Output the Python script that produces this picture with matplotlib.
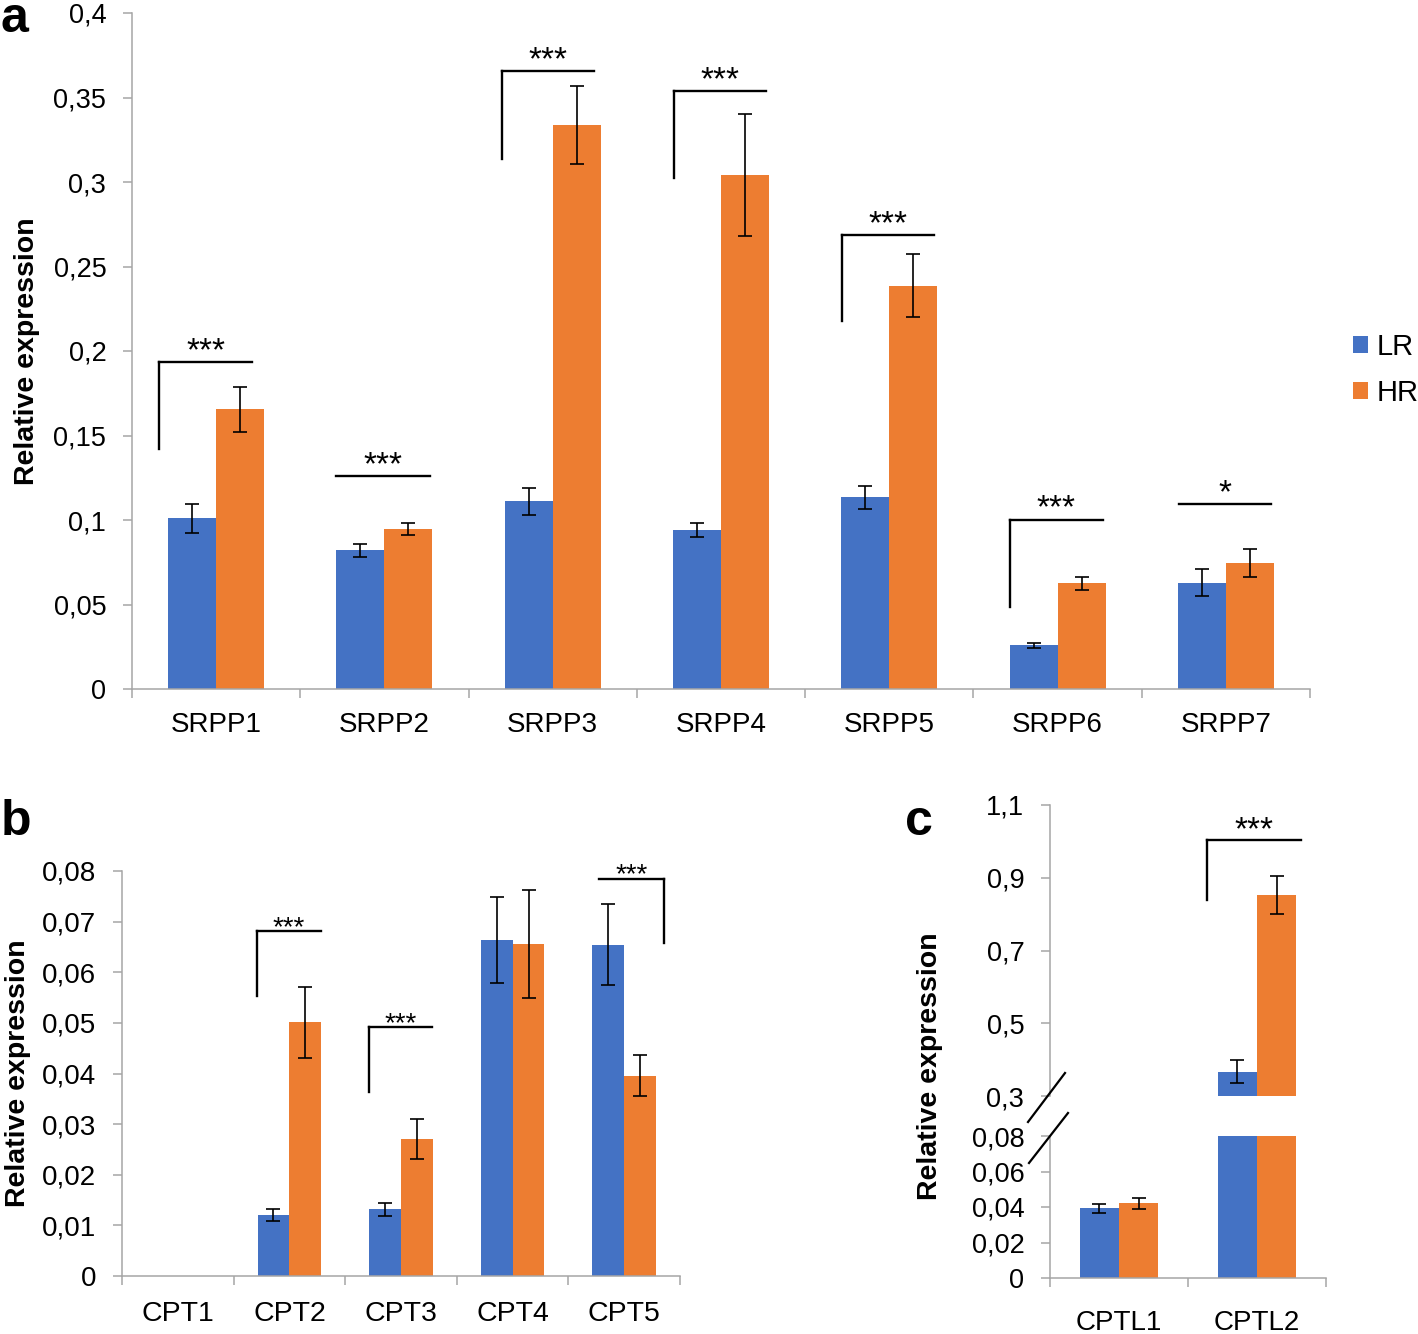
import matplotlib
matplotlib.use('Agg')
import matplotlib.pyplot as plt
from matplotlib.patches import Patch
from matplotlib.lines import Line2D
import numpy as np

plt.rcParams['font.family'] = ['Liberation Sans', 'DejaVu Sans']

# ---------------- data ----------------
# Panel a
srpp_genes = ['SRPP1', 'SRPP2', 'SRPP3', 'SRPP4', 'SRPP5', 'SRPP6', 'SRPP7']
srpp_lr = [0.101, 0.082, 0.111, 0.094, 0.1134, 0.0258, 0.0629]
srpp_lr_err = [0.0086, 0.0037, 0.008, 0.004, 0.0069, 0.0014, 0.0079]
srpp_hr = [0.1655, 0.0945, 0.3337, 0.3041, 0.2387, 0.0625, 0.0744]
srpp_hr_err = [0.0132, 0.0036, 0.0229, 0.036, 0.0186, 0.004, 0.0083]
srpp_yticks = [0, 0.05, 0.1, 0.15, 0.2, 0.25, 0.3, 0.35, 0.4]
srpp_yticklabels = ['0', '0,05', '0,1', '0,15', '0,2', '0,25', '0,3', '0,35', '0,4']
srpp_sig = ['***', '***', '***', '***', '***', '***', '*']
srpp_br_top = [0.1933, 0.126, 0.3655, 0.3538, 0.2686, 0.1002, 0.1093]
srpp_br_low = [0.142, None, 0.3134, 0.3026, 0.2178, 0.0487, None]
srpp_br_x0 = [-0.338, -0.285, -0.30, -0.28, -0.28, -0.28, -0.28]
srpp_br_x1 = [0.213, 0.27, 0.247, 0.267, 0.267, 0.267, 0.267]
srpp_br_side = ['left'] * 7

# Panel b
cpt_genes = ['CPT1', 'CPT2', 'CPT3', 'CPT4', 'CPT5']
cpt_lr = [0.0, 0.01205, 0.01317, 0.0664, 0.0654]
cpt_lr_err = [0.0, 0.0012, 0.0013, 0.0085, 0.0080]
cpt_hr = [0.0, 0.0501, 0.02706, 0.0656, 0.0396]
cpt_hr_err = [0.0, 0.0070, 0.0039, 0.0106, 0.0041]
cpt_yticks = [0, 0.01, 0.02, 0.03, 0.04, 0.05, 0.06, 0.07, 0.08]
cpt_yticklabels = ['0', '0,01', '0,02', '0,03', '0,04', '0,05', '0,06', '0,07', '0,08']
cpt_sig = [None, '***', '***', None, '***']
cpt_br_top = [None, 0.0681, 0.0491, None, 0.0784]
cpt_br_low = [None, 0.0554, 0.0363, None, 0.0657]
cpt_br_x0 = [0, -0.29, -0.29, 0, -0.222]
cpt_br_x1 = [0, 0.28, 0.28, 0, 0.36]
cpt_br_side = [None, 'left', 'left', None, 'right']

# Panel c
cptl_genes = ['CPTL1', 'CPTL2']
cptl_lr = [0.0393, 0.367]
cptl_lr_err = [0.0024, 0.031]
cptl_hr = [0.0421, 0.853]
cptl_hr_err = [0.0031, 0.052]
cptl_top_yticks = [0.3, 0.5, 0.7, 0.9, 1.1]
cptl_top_yticklabels = ['0,3', '0,5', '0,7', '0,9', '1,1']
cptl_bot_yticks = [0, 0.02, 0.04, 0.06, 0.08]
cptl_bot_yticklabels = ['0', '0,02', '0,04', '0,06', '0,08']
cptl_sig = [None, '***']
cptl_br_top = [None, 1.0035]
cptl_br_low = [None, 0.839]
cptl_br_x0 = [0, -0.362]
cptl_br_x1 = [0, 0.317]

series_names = ['LR', 'HR']
series_colors = ['#4472C4', '#ED7D31']

# ---------------- figure ----------------
W, H = 1418, 1334
fig = plt.figure(figsize=(W / 100, H / 100), dpi=100)
GRAY = '#A6A6A6'
BW = 0.285


def px_rect(x0, y_bottom, x1, y_top):
    return [x0 / W, 1 - y_bottom / H, (x1 - x0) / W, (y_bottom - y_top) / H]


def style(ax, cats, yticks, ylabels, lab_size, xpad, show_x=True):
    n = len(cats)
    ax.set_xlim(-0.5, n - 0.5)
    for s in ['top', 'right']:
        ax.spines[s].set_visible(False)
    ax.spines['left'].set_color(GRAY)
    ax.spines['left'].set_linewidth(1.1)
    ax.spines['bottom'].set_color(GRAY)
    ax.spines['bottom'].set_linewidth(1.1)
    ax.set_yticks(yticks)
    ax.set_yticklabels(ylabels)
    ax.tick_params(axis='y', length=6.5, width=1.1, color=GRAY, pad=12,
                   labelsize=lab_size, labelcolor='black')
    if show_x:
        ax.set_xticks(range(n))
        ax.set_xticklabels(cats)
        ax.set_xticks(np.arange(n + 1) - 0.5, minor=True)
        ax.tick_params(axis='x', which='major', length=0, pad=xpad,
                       labelsize=lab_size + 0.5)
        ax.tick_params(axis='x', which='minor', length=6.5, width=1.1,
                       color=GRAY, direction='out')
    else:
        ax.spines['bottom'].set_visible(False)
        ax.set_xticks([])
        ax.tick_params(axis='x', which='both', length=0, labelbottom=False)


def draw_bars(ax, lr, lr_err, hr, hr_err):
    x = np.arange(len(lr))
    for vals, errs, off, col in [(lr, lr_err, -BW / 2, series_colors[0]),
                                 (hr, hr_err, BW / 2, series_colors[1])]:
        ax.bar(x + off, vals, BW, color=col, edgecolor='none', zorder=2)
        vals = np.asarray(vals, float)
        errs = np.asarray(errs, float)
        m = vals > 0
        ax.errorbar(x[m] + off, vals[m], yerr=errs[m], fmt='none',
                    ecolor='black', elinewidth=1.2, capsize=4.7, capthick=1.2,
                    zorder=3)


def draw_brackets(ax, sig, top, low, x0s, x1s, sides, fs, off):
    for i, s in enumerate(sig):
        if s is None:
            continue
        xa, xb = i + x0s[i], i + x1s[i]
        ax.plot([xa, xb], [top[i], top[i]], color='black', lw=1.7,
                clip_on=False, solid_capstyle='projecting', zorder=4)
        if low[i] is not None:
            xv = xa if sides[i] == 'left' else xb
            ax.plot([xv, xv], [low[i], top[i]], color='black', lw=1.7,
                    clip_on=False, solid_capstyle='projecting', zorder=4)
        ax.annotate(s, xy=((xa + xb) / 2, top[i]), xytext=(0, off),
                    textcoords='offset points', ha='center', va='baseline',
                    fontsize=fs, annotation_clip=False)


# Panel a
axa = fig.add_axes(px_rect(132, 689, 1310, 13))
draw_bars(axa, srpp_lr, srpp_lr_err, srpp_hr, srpp_hr_err)
axa.set_ylim(0, 0.4)
style(axa, srpp_genes, srpp_yticks, srpp_yticklabels, 19.5, 16.5)
draw_brackets(axa, srpp_sig, srpp_br_top, srpp_br_low, srpp_br_x0,
              srpp_br_x1, srpp_br_side, 24, 1.5)
axa.set_ylabel('Relative expression', fontsize=20.5, fontweight='bold')
axa.yaxis.set_label_coords((40 - 132) / 1178, 0.5)

# Panel b
axb = fig.add_axes(px_rect(122, 1276, 680, 871))
draw_bars(axb, cpt_lr, cpt_lr_err, cpt_hr, cpt_hr_err)
axb.set_ylim(0, 0.08)
style(axb, cpt_genes, cpt_yticks, cpt_yticklabels, 20, 18)
draw_brackets(axb, cpt_sig, cpt_br_top, cpt_br_low, cpt_br_x0, cpt_br_x1,
              cpt_br_side, 20, -2.5)
axb.set_ylabel('Relative expression', fontsize=20.5, fontweight='bold')
axb.yaxis.set_label_coords((31 - 122) / 558, 0.5)

# Panel c (broken axis)
axct = fig.add_axes(px_rect(1050, 1096, 1326, 805))
axcb = fig.add_axes(px_rect(1050, 1278, 1326, 1136))
for ax in (axct, axcb):
    draw_bars(ax, cptl_lr, cptl_lr_err, cptl_hr, cptl_hr_err)
axct.set_ylim(0.3, 1.1)
axcb.set_ylim(0, 0.08)
style(axct, cptl_genes, cptl_top_yticks, cptl_top_yticklabels, 19.5, 23,
      show_x=False)
style(axcb, cptl_genes, cptl_bot_yticks, cptl_bot_yticklabels, 19.5, 23)
draw_brackets(axct, cptl_sig, cptl_br_top, cptl_br_low, cptl_br_x0,
              cptl_br_x1, ['left', 'left'], 24, 0.5)
fig.text(930 / W, 1 - 1066 / H, 'Relative expression', rotation=90,
         fontsize=20.5, fontweight='bold', ha='center', va='center')

# break marks
for (xa, ya, xb, yb) in [(1028, 1122, 1065, 1073), (1029, 1163, 1068, 1113)]:
    fig.add_artist(Line2D([xa / W, xb / W], [1 - ya / H, 1 - yb / H],
                          color='black', lw=1.6, transform=fig.transFigure))

# Legend
handles = [Patch(facecolor=c, edgecolor='none') for c in series_colors]
fig.legend(handles, series_names, loc='center left',
           bbox_to_anchor=(1353 / W, 1 - 370 / H), frameon=False,
           fontsize=21, handlelength=0.52, handleheight=0.52,
           handletextpad=0.3, labelspacing=0.62, borderpad=0,
           borderaxespad=0)

# Panel letters
for letter, x, y in [('a', 1, 32), ('b', 1, 835), ('c', 905, 835)]:
    fig.text(x / W, 1 - y / H, letter, fontsize=36, fontweight='bold',
             ha='left', va='baseline')

fig.savefig('out.png', dpi=100, facecolor='white')
